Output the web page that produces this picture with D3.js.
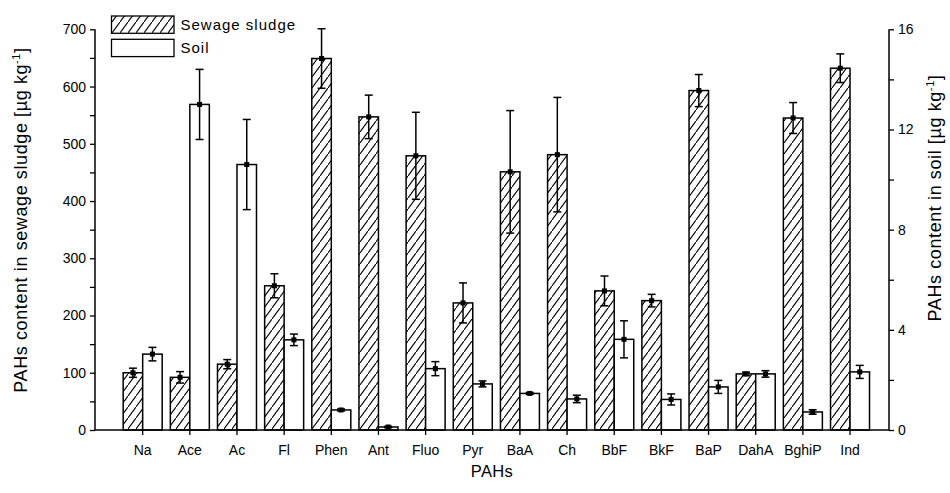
<!DOCTYPE html>
<html>
<head>
<meta charset="utf-8">
<script src="https://cdn.jsdelivr.net/npm/d3@7"></script>
<style>
  html, body { margin: 0; padding: 0; background: #fff; }
  svg { display: block; font-family: Arial, "Liberation Sans", sans-serif; }
</style>
</head>
<body>
<svg id="chart" width="950" height="493"></svg>
<script>
// PAH compounds on the category axis
const categories = ["Na", "Ace", "Ac", "Fl", "Phen", "Ant", "Fluo", "Pyr", "BaA", "Ch", "BbF", "BkF", "BaP", "DahA", "BghiP", "Ind"];

// Sewage sludge content, µg/kg (left axis), with error half-widths
const sludgeMean = [100, 92, 115, 252, 649, 547, 479, 222, 451, 481, 243, 226, 593, 98, 545, 632];
const sludgeErr  = [8, 10, 8, 21, 52, 38, 76, 35, 107, 100, 26, 11, 28, 3, 27, 25];

// Soil content, µg/kg (right axis), with error half-widths
const soilMean = [3.03, 13.0, 10.6, 3.6, 0.8, 0.12, 2.45, 1.84, 1.46, 1.24, 3.62, 1.22, 1.72, 2.24, 0.72, 2.32];
const soilErr  = [0.27, 1.4, 1.8, 0.23, 0.04, 0.03, 0.28, 0.12, 0.04, 0.15, 0.74, 0.22, 0.26, 0.13, 0.09, 0.26];

// Axis tick values
const leftTicks  = d3.range(0, 701, 50);
const rightTicks = d3.range(0, 17, 2);
const legendLabels = ["Sewage sludge", "Soil"];

const svg = d3.select("#chart");

const x0 = 95, x1 = 889, yBase = 430, yTop = 29.3;

const x = d3.scaleBand().domain(categories).range([119.1, 873.6]).paddingInner(0).paddingOuter(0);
const yL = d3.scaleLinear().domain([0, 700]).range([yBase, yTop]);
const yR = d3.scaleLinear().domain([0, 16]).range([yBase, yTop]);
const barW = 19.5;
const center = c => x(c) + x.bandwidth() / 2;

// diagonal hatch for the sludge bars
const defs = svg.append("defs");
const pat = defs.append("pattern")
  .attr("id", "hatch")
  .attr("patternUnits", "userSpaceOnUse")
  .attr("width", 8).attr("height", 11);
pat.append("rect").attr("width", 8).attr("height", 11).attr("fill", "#fff");
pat.append("path").attr("d", "M-2,13.75 L10,-2.75").attr("stroke", "#000").attr("stroke-width", 1.1);

const sludge = categories.map((c, i) => ({ c, v: sludgeMean[i], e: sludgeErr[i] }));
const soil = categories.map((c, i) => ({ c, v: soilMean[i], e: soilErr[i] }));

// bars
svg.append("g").selectAll("rect").data(sludge).join("rect")
  .attr("x", d => center(d.c) - barW)
  .attr("y", d => yL(d.v))
  .attr("width", barW)
  .attr("height", d => yBase - yL(d.v))
  .attr("fill", "url(#hatch)")
  .attr("stroke", "#000").attr("stroke-width", 1.5);

svg.append("g").selectAll("rect").data(soil).join("rect")
  .attr("x", d => center(d.c))
  .attr("y", d => yR(d.v))
  .attr("width", barW)
  .attr("height", d => yBase - yR(d.v))
  .attr("fill", "#fff")
  .attr("stroke", "#000").attr("stroke-width", 1.5);

// error bars with centre markers
function errorBars(data, scale, dx) {
  const g = svg.append("g").attr("stroke", "#000").attr("stroke-width", 1.5);
  data.forEach(d => {
    const cx = center(d.c) + dx;
    const top = scale(d.v + d.e), bot = scale(d.v - d.e);
    g.append("line").attr("x1", cx).attr("x2", cx).attr("y1", top).attr("y2", bot);
    g.append("line").attr("x1", cx - 4).attr("x2", cx + 4).attr("y1", top).attr("y2", top);
    g.append("line").attr("x1", cx - 4).attr("x2", cx + 4).attr("y1", bot).attr("y2", bot);
    svg.append("rect").attr("x", cx - 2.5).attr("y", scale(d.v) - 2.5)
      .attr("width", 5).attr("height", 5).attr("fill", "#000");
  });
}
errorBars(sludge, yL, -barW / 2);
errorBars(soil, yR, barW / 2);

// axes
const axisStyle = g => {
  g.selectAll("text").attr("font-size", 14).attr("fill", "#000")
    .attr("font-family", "Arial, 'Liberation Sans', sans-serif");
  g.selectAll("line").attr("stroke", "#000").attr("stroke-width", 1.3);
  g.select(".domain").remove();
};

svg.append("g").attr("transform", `translate(${x0},0)`)
  .call(d3.axisLeft(yL).tickValues(leftTicks).tickSize(5).tickPadding(4)
    .tickFormat(v => v % 100 === 0 ? v : ""))
  .call(axisStyle);

svg.append("g").attr("transform", `translate(${x1},0)`)
  .call(d3.axisRight(yR).tickValues(rightTicks).tickSize(5).tickPadding(4)
    .tickFormat(v => v % 4 === 0 ? v : ""))
  .call(axisStyle);

svg.append("g").attr("transform", `translate(0,${yBase})`)
  .call(d3.axisBottom(x).tickSize(5).tickPadding(10))
  .call(axisStyle);

// axis lines
const lines = svg.append("g").attr("stroke", "#000").attr("stroke-width", 1.5).attr("fill", "none");
lines.append("line").attr("x1", x0).attr("x2", x1).attr("y1", yBase).attr("y2", yBase);
lines.append("line").attr("x1", x0).attr("x2", x0).attr("y1", yTop).attr("y2", yBase);
lines.append("line").attr("x1", x1).attr("x2", x1).attr("y1", yTop).attr("y2", yBase);

// axis titles
svg.append("text").attr("x", (x0 + x1) / 2).attr("y", 477)
  .attr("text-anchor", "middle").attr("font-size", 16.5).attr("letter-spacing", 0.4).text("PAHs");

function yTitle(cx, cy, text) {
  const t = svg.append("text")
    .attr("transform", `translate(${cx},${cy}) rotate(-90)`)
    .attr("text-anchor", "middle").attr("font-size", 18).attr("letter-spacing", 0.6);
  t.append("tspan").text(text);
  t.append("tspan").attr("font-size", 11).attr("dy", -7).text("-1");
  t.append("tspan").attr("dy", 7).text("]");
}
yTitle(27, 220, "PAHs content in sewage sludge [µg kg");
yTitle(941, 198, "PAHs content in soil [µg kg");

// legend
const lg = svg.append("g");
legendLabels.forEach((label, i) => {
  const y = 16 + i * 23.3;
  lg.append("rect").attr("x", 111.5).attr("y", y).attr("width", 62.5).attr("height", 17.3)
    .attr("fill", i === 0 ? "url(#hatch)" : "#fff")
    .attr("stroke", "#000").attr("stroke-width", 1.3);
  lg.append("text").attr("x", 180.5).attr("y", y + 14)
    .attr("font-size", 15).attr("letter-spacing", 1).text(label);
});
</script>
</body>
</html>
